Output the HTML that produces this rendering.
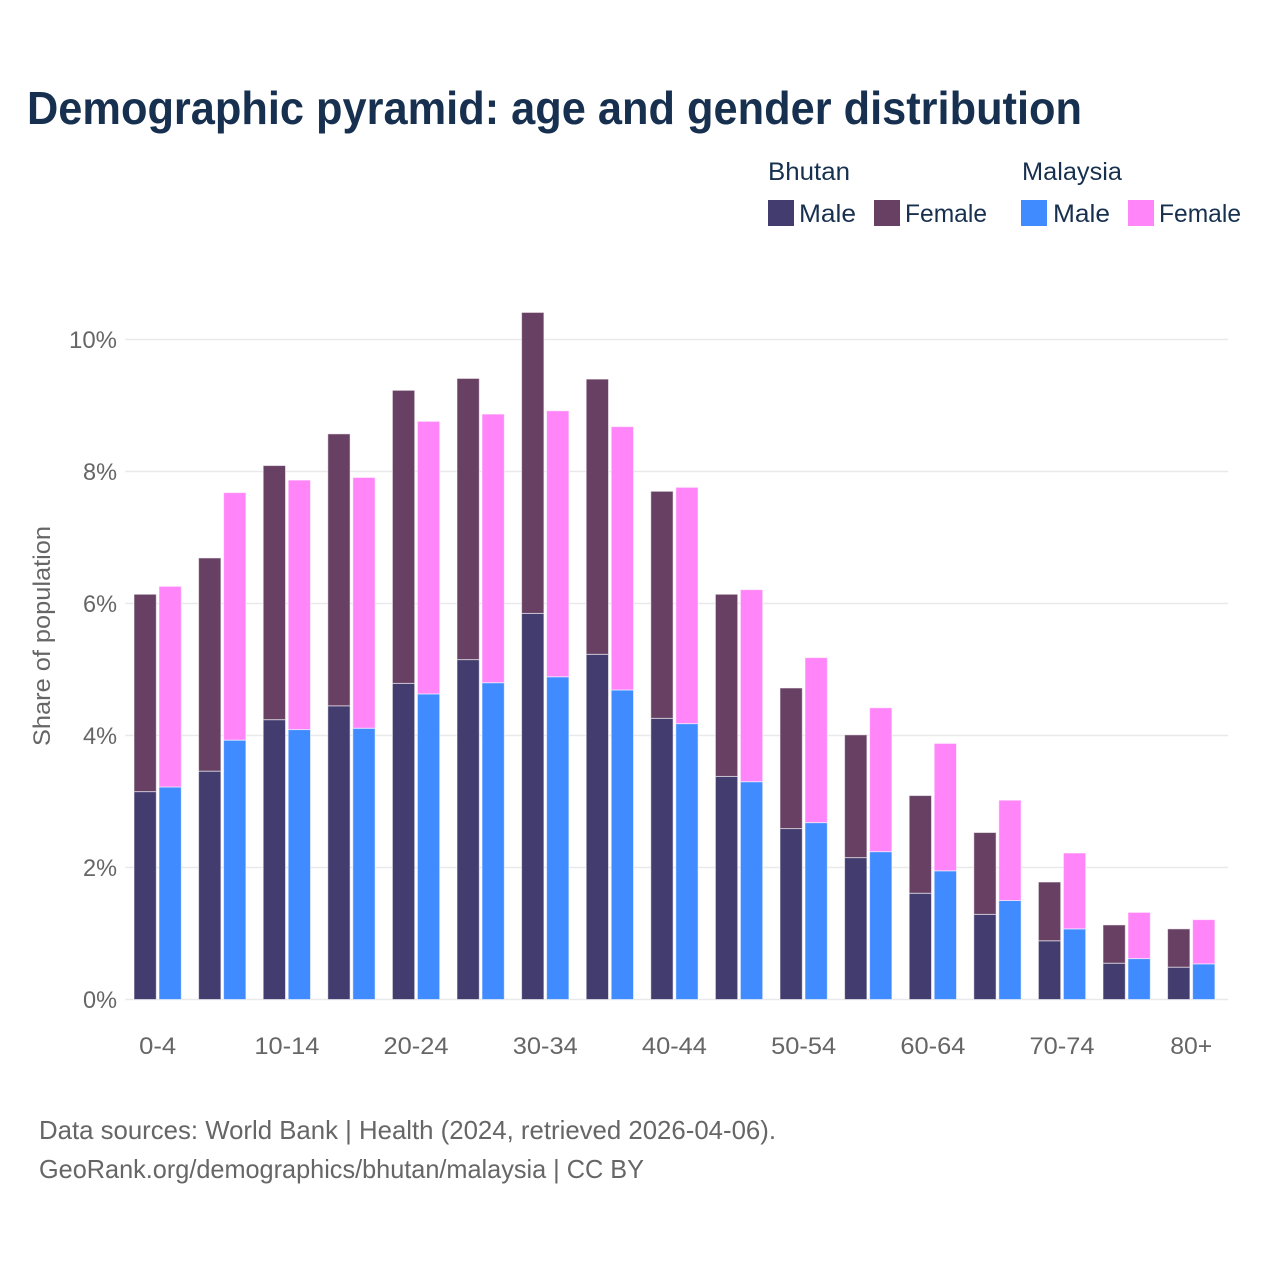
<!DOCTYPE html>
<html lang="en">
<head>
<meta charset="utf-8">
<title>Demographic pyramid: age and gender distribution</title>
<style>
html,body{margin:0;padding:0;background:#fff}
svg{display:block}
text{font-family:"Liberation Sans",Arial,sans-serif}
</style>
</head>
<body>
<svg id="chart" xmlns="http://www.w3.org/2000/svg" width="1280" height="1280" viewBox="0 0 1280 1280">
  <rect width="1280" height="1280" fill="#ffffff"/>
  <text x="27" y="124" font-size="46" font-weight="700" fill="#17304f" textLength="1055" lengthAdjust="spacingAndGlyphs">Demographic pyramid: age and gender distribution</text>

  <g font-size="25" fill="#17304f">
    <text x="768" y="180" textLength="82" lengthAdjust="spacingAndGlyphs">Bhutan</text>
    <text x="1022" y="180" textLength="100" lengthAdjust="spacingAndGlyphs">Malaysia</text>
    <rect x="768" y="200" width="26" height="26" fill="#423d6e"/>
    <text x="799" y="222" textLength="57" lengthAdjust="spacingAndGlyphs">Male</text>
    <rect x="874" y="200" width="26" height="26" fill="#674063"/>
    <text x="905" y="222" textLength="82" lengthAdjust="spacingAndGlyphs">Female</text>
    <rect x="1021" y="200" width="26" height="26" fill="#3f8bff"/>
    <text x="1053" y="222" textLength="57" lengthAdjust="spacingAndGlyphs">Male</text>
    <rect x="1128" y="200" width="26" height="26" fill="#ff85f9"/>
    <text x="1159" y="222" textLength="82" lengthAdjust="spacingAndGlyphs">Female</text>
  </g>

  <g id="grid"></g>
  <g id="bars"></g>
  <g id="yaxis"></g>
  <g id="xaxis"></g>

  <text transform="translate(50,636) rotate(-90)" text-anchor="middle" font-size="24" fill="#666666" textLength="220" lengthAdjust="spacingAndGlyphs">Share of population</text>

  <text x="39" y="1139" font-size="26" fill="#666666" textLength="737" lengthAdjust="spacingAndGlyphs">Data sources: World Bank | Health (2024, retrieved 2026-04-06).</text>
  <text x="39" y="1178" font-size="26" fill="#666666" textLength="605" lengthAdjust="spacingAndGlyphs">GeoRank.org/demographics/bhutan/malaysia | CC BY</text>
</svg>

<script>
var categories = ["0-4","5-9","10-14","15-19","20-24","25-29","30-34","35-39","40-44","45-49","50-54","55-59","60-64","65-69","70-74","75-79","80+"];
var xTickLabels = ["0-4","10-14","20-24","30-34","40-44","50-54","60-64","70-74","80+"];
var yTicks = [0,2,4,6,8,10];
var bhutanMale = [3.15,3.46,4.24,4.45,4.79,5.15,5.85,5.23,4.26,3.38,2.59,2.15,1.61,1.29,0.89,0.55,0.49];
var bhutanFemale = [2.99,3.23,3.85,4.12,4.44,4.26,4.56,4.17,3.44,2.76,2.13,1.86,1.48,1.24,0.89,0.58,0.58];
var malaysiaMale = [3.22,3.93,4.09,4.11,4.63,4.80,4.89,4.69,4.18,3.30,2.68,2.24,1.95,1.50,1.07,0.62,0.54];
var malaysiaFemale = [3.04,3.75,3.78,3.80,4.13,4.07,4.03,3.99,3.58,2.91,2.50,2.18,1.93,1.52,1.15,0.70,0.67];

var NS = "http://www.w3.org/2000/svg";
var plotLeft = 125.3, plotRight = 1228;
var yZero = 999.5, pxPerPercent = 66;
var firstCenter = 157.65, step = 64.6;
var barW = 22.3, barGap = 2.7;

function yScale(v){ return yZero - v * pxPerPercent; }
function xCenter(i){ return firstCenter + i * step; }

function make(tag, parent, attrs){
  var el = document.createElementNS(NS, tag);
  for (var k in attrs) el.setAttribute(k, attrs[k]);
  parent.appendChild(el);
  return el;
}

var gridG = document.getElementById("grid");
var yG = document.getElementById("yaxis");
var xG = document.getElementById("xaxis");
var barsG = document.getElementById("bars");

yTicks.forEach(function(t){
  var line = make("line", gridG, {x1:plotLeft, x2:plotRight, y1:yScale(t), y2:yScale(t), stroke:"#e9e9ec", "stroke-width":1.4});
  
  
  var label = make("text", yG, {x:117, y:yScale(t)+8.5, "text-anchor":"end", "font-size":24, fill:"#666666", textLength: t === 10 ? 48 : 34, lengthAdjust:"spacingAndGlyphs"});
  
  
  label.textContent = t + "%";
});

xTickLabels.forEach(function(lab){
  var i = categories.indexOf(lab);
  var label = make("text", xG, {x:xCenter(i), y:1054, "text-anchor":"middle", "font-size":24, fill:"#666666", textLength: lab.length > 3 ? 65 : (lab === "80+" ? 42 : 37), lengthAdjust:"spacingAndGlyphs"});
  
  
  label.textContent = lab;
});

function drawSegment(x, base, value, fill, stroke){
  var top = yScale(base + value), bottom = yScale(base);
  var r = make("rect", barsG, {x:x, y:top, width:barW, height:bottom-top, fill:fill, stroke:stroke, "stroke-width":1, "stroke-opacity":0.55});
  
  
}

categories.forEach(function(c, i){
  var cx = xCenter(i);
  var lx = cx - barGap/2 - barW, rx = cx + barGap/2;
  drawSegment(lx, 0, bhutanMale[i], "#423d6e", "#ffffff");
  drawSegment(lx, bhutanMale[i], bhutanFemale[i], "#674063", "#ffffff");
  drawSegment(rx, 0, malaysiaMale[i], "#3f8bff", "#ffffff");
  drawSegment(rx, malaysiaMale[i], malaysiaFemale[i], "#ff85f9", "#ffffff");
});
</script>
</body>
</html>
